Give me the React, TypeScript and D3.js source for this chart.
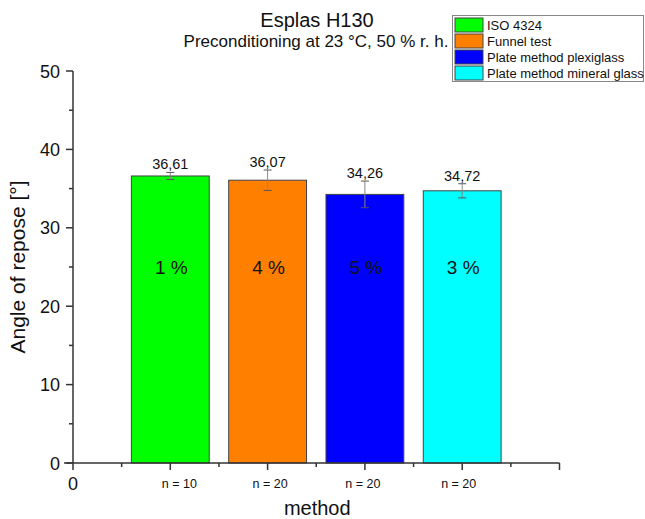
import React from "react";
import * as d3 from "d3";

const categories = ["ISO 4324", "Funnel test", "Plate method plexiglass", "Plate method mineral glass"];
const positions = [1, 2, 3, 4];
const values = [36.61, 36.07, 34.26, 34.72];
const errors = [0.45, 1.3, 1.7, 0.9];
const valueLabels = ["36,61", "36,07", "34,26", "34,72"];
const percentLabels = ["1 %", "4 %", "5 %", "3 %"];
const nLabels = ["n = 10", "n = 20", "n = 20", "n = 20"];
const colors = ["#00ff00", "#ff8000", "#0000ff", "#00ffff"];
const yTicks = [0, 10, 20, 30, 40, 50];
const yMinor = [5, 15, 25, 35, 45];
const xMajor = [0, 1, 2, 3, 4, 5];
const xMinor = [0.5, 1.5, 2.5, 3.5, 4.5];

// small horizontal nudges of the tick labels, as in the original rendering
const nLabelNudge = [9, 2.5, -2, -3.5];

const FONT = "'Liberation Sans', Arial, sans-serif";

export default function App() {
  const W = 645, H = 519;
  const x = d3.scaleLinear().domain([0, 5]).range([73, 559.5]);
  const y = d3.scaleLinear().domain([0, 50]).range([463, 71]);
  const barW = x(0.8) - x(0);
  const axisX = 73;
  const axisY = 463;

  return (
    <svg width={W} height={H} style={{ position: "absolute", left: 0, top: 0, background: "#fff" }} fontFamily={FONT}>
      {/* title */}
      <text x={317} y={27} textAnchor="middle" fontSize={20} fill="#111">Esplas H130</text>
      <text x={316} y={47} textAnchor="middle" fontSize={17} fill="#111">Preconditioning at 23 °C, 50 % r. h.</text>

      {/* bars */}
      {values.map((v, i) => (
        <rect key={"b" + i} x={x(positions[i]) - barW / 2} y={y(v)} width={barW} height={y(0) - y(v)}
          fill={colors[i]} stroke="#444" strokeWidth={1} />
      ))}
      {/* error bars */}
      {values.map((v, i) => {
        const cx = x(positions[i]);
        return (
          <g key={"e" + i}>
            <line x1={cx} x2={cx} y1={y(v + errors[i])} y2={y(v - errors[i])} stroke="#888" strokeWidth={1} />
            <line x1={cx - 4} x2={cx + 4} y1={y(v + errors[i])} y2={y(v + errors[i])} stroke="#555" strokeWidth={1} />
            <line x1={cx - 4} x2={cx + 4} y1={y(v - errors[i])} y2={y(v - errors[i])} stroke="#555" strokeWidth={1} />
          </g>
        );
      })}
      {/* value labels */}
      {values.map((v, i) => (
        <text key={"v" + i} x={x(positions[i])} y={y(v + errors[i]) - 3} textAnchor="middle" fontSize={14.5} fill="#111">{valueLabels[i]}</text>
      ))}
      {/* percent labels */}
      {percentLabels.map((p, i) => (
        <text key={"p" + i} x={x(positions[i]) + 1} y={274} textAnchor="middle" fontSize={19} fill="#111">{p}</text>
      ))}

      {/* y axis */}
      <line x1={axisX} x2={axisX} y1={y(50)} y2={axisY} stroke="#333" strokeWidth={1.5} />
      {yTicks.map(t => (
        <g key={"yt" + t}>
          <line x1={axisX - 7} x2={axisX} y1={y(t)} y2={y(t)} stroke="#333" strokeWidth={1.5} />
          <text x={60} y={y(t) + 6.5} textAnchor="end" fontSize={18} fill="#111">{t}</text>
        </g>
      ))}
      {yMinor.map(t => (
        <line key={"ym" + t} x1={axisX - 4} x2={axisX} y1={y(t)} y2={y(t)} stroke="#333" strokeWidth={1.5} />
      ))}
      <text transform={`translate(25,${(y(0) + y(50)) / 2}) rotate(-90)`} textAnchor="middle" fontSize={21} fill="#111">Angle of repose [°]</text>

      {/* x axis */}
      <line x1={64} x2={x(5)} y1={axisY} y2={axisY} stroke="#333" strokeWidth={1.5} />
      {xMajor.map(t => (
        <line key={"xt" + t} x1={x(t)} x2={x(t)} y1={axisY} y2={axisY + 7} stroke="#333" strokeWidth={1.5} />
      ))}
      {xMinor.map(t => (
        <line key={"xm" + t} x1={x(t)} x2={x(t)} y1={axisY} y2={axisY + 4} stroke="#333" strokeWidth={1.5} />
      ))}
      <text x={x(0)} y={490} textAnchor="middle" fontSize={18} fill="#111">0</text>
      {nLabels.map((n, i) => (
        <text key={"n" + i} x={x(positions[i]) + nLabelNudge[i]} y={488} textAnchor="middle" fontSize={12.5} fill="#111">{n}</text>
      ))}
      <text x={(x(0) + x(5)) / 2 + 1} y={515} textAnchor="middle" fontSize={20} fill="#111">method</text>

      {/* legend */}
      <rect x={452.5} y={15.5} width={191} height={66} fill="#fff" stroke="#888" strokeWidth={1} />
      {categories.map((c, i) => (
        <g key={"l" + i}>
          <rect x={455} y={18 + i * 16} width={28} height={14} fill={colors[i]} stroke="#444" strokeWidth={1} />
          <text x={487} y={30 + i * 16} fontSize={13} fill="#111">{c}</text>
        </g>
      ))}
    </svg>
  );
}
